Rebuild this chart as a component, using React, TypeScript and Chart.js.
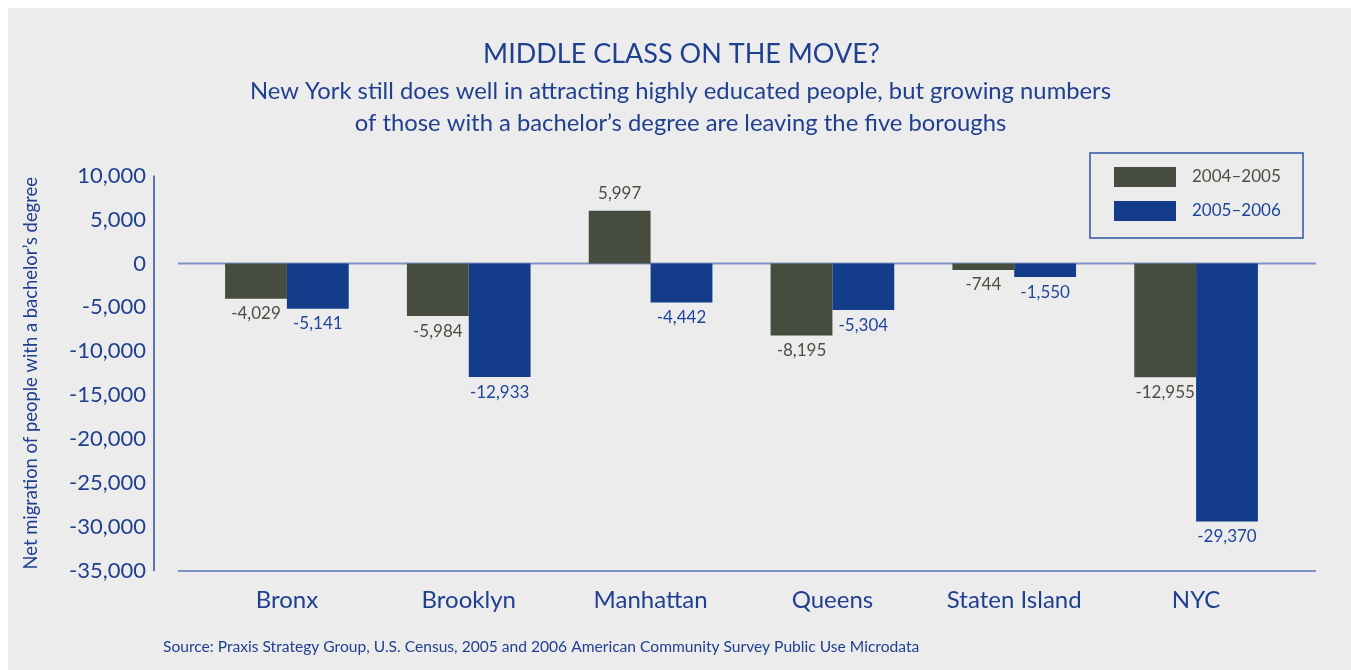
import React, { useEffect, useRef } from "react";
import { Chart, registerables } from "chart.js";

Chart.register(...registerables);

const categories = ["Bronx", "Brooklyn", "Manhattan", "Queens", "Staten Island", "NYC"];
const values2004_2005 = [-4029, -5984, 5997, -8195, -744, -12955];
const values2005_2006 = [-5141, -12933, -4442, -5304, -1550, -29370];
const seriesNames = ["2004–2005", "2005–2006"];
const yMin = -35000;
const yMax = 10000;
const yStep = 5000;

const titleText = "MIDDLE CLASS ON THE MOVE?";
const subtitleLines = [
  "New York still does well in attracting highly educated people, but growing numbers",
  "of those with a bachelor’s degree are leaving the five boroughs",
];
const yAxisTitle = "Net migration of people with a bachelor’s degree";
const sourceText =
  "Source: Praxis Strategy Group, U.S. Census, 2005 and 2006 American Community Survey Public Use Microdata";

const FONT = "Lato, 'Open Sans', sans-serif";
const BG = "#ececec";
const BLUE_TEXT = "#1f3f8f";
const DARK_BAR = "#464d3e";
const BLUE_BAR = "#133c8b";
const DARK_LABEL = "#4b5043";
const BLUE_LABEL = "#1e4599";
const ZERO_LINE = "#7d91c4";
const AXIS_LINE = "#2c4d9c";
const LEGEND_BORDER = "#2f54a3";

const W = 1343;
const H = 662;

const decorPlugin = {
  id: "decor",
  beforeDraw(chart: any) {
    const { ctx } = chart;
    ctx.save();
    ctx.fillStyle = BG;
    ctx.fillRect(0, 0, W, H);
    ctx.fillStyle = BLUE_TEXT;
    ctx.textAlign = "center";
    ctx.textBaseline = "alphabetic";
    ctx.font = `27px ${FONT}`;
    ctx.fillText(titleText, W / 2 + 2, 55);
    ctx.font = `23.8px ${FONT}`;
    ctx.fillText(subtitleLines[0], W / 2 + 1, 91);
    ctx.fillText(subtitleLines[1], W / 2 + 1, 123);
    ctx.textAlign = "left";
    ctx.font = `15.6px ${FONT}`;
    ctx.fillText(sourceText, 155, 644);
    ctx.restore();
  },
  beforeDatasetsDraw(chart: any) {
    const { ctx, chartArea, scales } = chart;
    const y0 = scales.y.getPixelForValue(0);
    ctx.save();
    ctx.strokeStyle = ZERO_LINE;
    ctx.lineWidth = 2;
    ctx.beginPath();
    ctx.moveTo(chartArea.left - 18, y0);
    ctx.lineTo(chartArea.right + 29, y0);
    ctx.stroke();
    ctx.beginPath();
    ctx.moveTo(chartArea.left - 18, chartArea.bottom);
    ctx.lineTo(chartArea.right + 29, chartArea.bottom);
    ctx.stroke();
    ctx.strokeStyle = AXIS_LINE;
    ctx.lineWidth = 1.5;
    ctx.beginPath();
    ctx.moveTo(chartArea.left - 42, chartArea.top);
    ctx.lineTo(chartArea.left - 42, chartArea.bottom);
    ctx.stroke();
    ctx.restore();
  },
  afterDatasetsDraw(chart: any) {
    const { ctx } = chart;
    const labelColors = [DARK_LABEL, BLUE_LABEL];
    ctx.save();
    ctx.font = `17px ${FONT}`;
    ctx.textAlign = "center";
    ctx.textBaseline = "middle";
    chart.data.datasets.forEach((ds: any, di: number) => {
      const meta = chart.getDatasetMeta(di);
      meta.data.forEach((el: any, i: number) => {
        const v = ds.data[i] as number;
        const text = v.toLocaleString("en-US");
        ctx.fillStyle = labelColors[di];
        const y = v >= 0 ? el.y - 17 : el.y + 15;
        ctx.fillText(text, el.x, y);
      });
    });

    // legend
    const lx = 1082;
    const ly = 145;
    ctx.strokeStyle = LEGEND_BORDER;
    ctx.lineWidth = 1.5;
    ctx.strokeRect(lx, ly, 213, 85);
    chart.data.datasets.forEach((ds: any, di: number) => {
      const sy = ly + 14 + di * 34;
      ctx.fillStyle = ds.backgroundColor;
      ctx.fillRect(lx + 24, sy, 62, 20);
      ctx.fillStyle = labelColors[di];
      ctx.textAlign = "left";
      ctx.textBaseline = "middle";
      ctx.font = `17px ${FONT}`;
      ctx.fillText(ds.label, lx + 102, sy + 10);
    });
    ctx.restore();
  },
};

export default function App() {
  const ref = useRef<HTMLCanvasElement | null>(null);
  useEffect(() => {
    if (!ref.current) return;
    const chart = new Chart(ref.current, {
      type: "bar",
      data: {
        labels: categories,
        datasets: [
          {
            label: seriesNames[0],
            data: values2004_2005,
            backgroundColor: DARK_BAR,
            barPercentage: 1,
            categoryPercentage: 0.68,
          },
          {
            label: seriesNames[1],
            data: values2005_2006,
            backgroundColor: BLUE_BAR,
            barPercentage: 1,
            categoryPercentage: 0.68,
          },
        ],
      },
      options: {
        responsive: false,
        maintainAspectRatio: false,
        animation: false,
        layout: { padding: { top: 167.6, right: 64, bottom: 0, left: 0 } },
        plugins: {
          legend: { display: false },
          tooltip: { enabled: false },
          title: { display: false },
        },
        scales: {
          x: {
            grid: { display: false, drawTicks: false, tickLength: 0 },
            border: { display: false },
            ticks: {
              color: BLUE_TEXT,
              font: { family: FONT, size: 24 },
              padding: 15,
              maxRotation: 0,
              autoSkip: false,
            },
            afterFit: (scale: any) => {
              scale.height = 99;
            },
          },
          y: {
            min: yMin,
            max: yMax,
            grid: { display: false, drawTicks: false, tickLength: 0 },
            border: { display: false },
            ticks: {
              stepSize: yStep,
              color: BLUE_TEXT,
              font: { family: FONT, size: 22 },
              padding: 50,
              callback: (v: any) => Number(v).toLocaleString("en-US"),
            },
            title: {
              display: true,
              text: yAxisTitle,
              color: BLUE_TEXT,
              font: { family: FONT, size: 18.4 },
              padding: { top: 12, bottom: 0 },
            },
            afterFit: (scale: any) => {
              scale.width = 188;
            },
          },
        },
      },
      plugins: [decorPlugin],
    });
    return () => chart.destroy();
  }, []);

  return (
    <div
      style={{
        position: "fixed",
        left: 8,
        top: 8,
        width: W,
        height: H,
        background: BG,
      }}
    >
      <canvas ref={ref} width={W} height={H} style={{ display: "block" }} />
    </div>
  );
}
